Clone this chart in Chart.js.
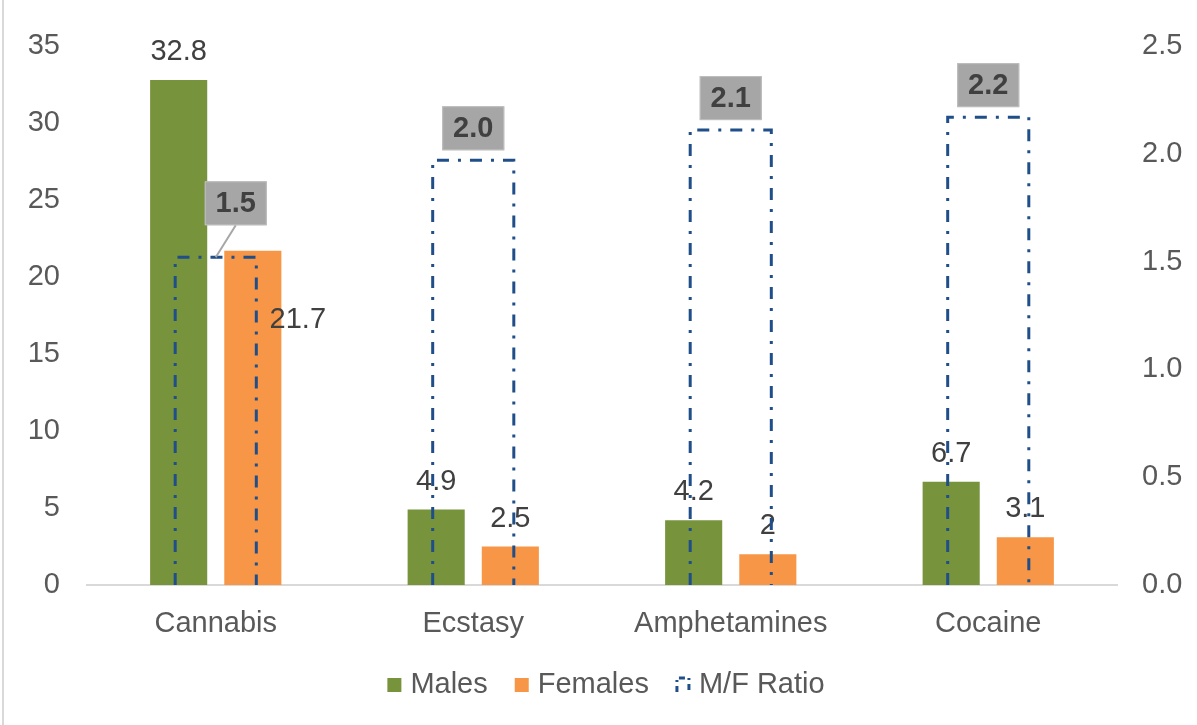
<!DOCTYPE html>
<html lang="en">
<head>
<meta charset="UTF-8" />
<title>Drug use by sex</title>
<script src="https://cdn.jsdelivr.net/npm/chart.js"></script>
<style>
  body { margin: 0; background: #fff; }
  #wrap { width: 1197px; height: 725px; position: relative; }
</style>
</head>
<body>
<div id="wrap"><canvas id="chart"></canvas></div>
<script>
// data
const categories = ["Cannabis", "Ecstasy", "Amphetamines", "Cocaine"];
const males = [32.8, 4.9, 4.2, 6.7];
const females = [21.7, 2.5, 2, 3.1];
const ratio = [1.52, 1.97, 2.11, 2.17];
const leftMax = 35, leftStep = 5;
const rightMax = 2.5, rightStep = 0.5;

const FONT = '"Liberation Sans", Arial, sans-serif';
const RATIO_COLOR = "#1F4E89";
const RATIO_DASH = [12, 9, 3, 9];

// value labels, dash-dot ratio outlines and grey ratio boxes
const labelPlugin = {
  id: "labels",
  afterDatasetsDraw(chart) {
    const ctx = chart.ctx;
    ctx.save();
    ctx.font = "29px " + FONT;
    ctx.fillStyle = "#404040";
    ctx.textAlign = "center";
    ctx.textBaseline = "alphabetic";
    [0, 1].forEach(function (di) {
      const vals = chart.data.datasets[di].data;
      chart.getDatasetMeta(di).data.forEach(function (bar, i) {
        let x = bar.x, y = bar.y - 20;
        // the Cannabis female label sits beside its bar
        if (di === 1 && i === 0) { x = bar.x + 45; y = bar.y + 77; }
        ctx.fillText(String(vals[i]), x, y);
      });
    });

    const rm = chart.getDatasetMeta(2);
    ctx.strokeStyle = RATIO_COLOR;
    ctx.lineWidth = 3;
    ctx.setLineDash(RATIO_DASH);
    rm.data.forEach(function (bar) {
      const l = bar.x - bar.width / 2, r = bar.x + bar.width / 2;
      ctx.beginPath();
      ctx.moveTo(l, bar.base);
      ctx.lineTo(l, bar.y);
      ctx.lineTo(r, bar.y);
      ctx.lineTo(r, bar.base);
      ctx.stroke();
    });
    ctx.setLineDash([]);

    ctx.font = "bold 29px " + FONT;
    ctx.textBaseline = "middle";
    rm.data.forEach(function (bar, i) {
      let cx = bar.x, bottom = bar.y - 10;
      if (i === 0) { cx = bar.x + 20; bottom = bar.y - 32; }
      const w = 62, h = 44;
      if (i === 0) {
        ctx.strokeStyle = "#A6A6A6";
        ctx.lineWidth = 2;
        ctx.beginPath();
        ctx.moveTo(cx, bottom);
        ctx.lineTo(bar.x, bar.y);
        ctx.stroke();
      }
      ctx.fillStyle = "#A6A6A6";
      ctx.fillRect(cx - w / 2, bottom - h, w, h);
      ctx.strokeStyle = "#BFBFBF";
      ctx.lineWidth = 1;
      ctx.strokeRect(cx - w / 2 + 0.5, bottom - h + 0.5, w - 1, h - 1);
      ctx.fillStyle = "#404040";
      ctx.fillText(ratio[i].toFixed(1), cx, bottom - h / 2 + 1);
    });
    ctx.restore();
  },
  afterDraw(chart) {
    // legend
    const ctx = chart.ctx;
    ctx.save();
    ctx.font = "29px " + FONT;
    ctx.textBaseline = "middle";
    ctx.textAlign = "left";
    const ds = chart.data.datasets;
    const box = 14, gap = 9, itemGap = 27;
    let total = 0;
    ds.forEach(function (d, i) {
      total += box + gap + ctx.measureText(d.label).width + (i < ds.length - 1 ? itemGap : 0);
    });
    let x = (chart.chartArea.left + chart.chartArea.right) / 2 + 4 - total / 2;
    const y = 685;
    ds.forEach(function (d, i) {
      if (i < 2) {
        ctx.fillStyle = d.backgroundColor;
        ctx.fillRect(x, y - box / 2, box, box);
      } else {
        ctx.strokeStyle = RATIO_COLOR;
        ctx.lineWidth = 3;
        ctx.setLineDash([6, 4, 2, 4]);
        ctx.beginPath();
        ctx.moveTo(x + 1, y + 7);
        ctx.lineTo(x + 1, y - 7);
        ctx.lineTo(x + 13, y - 7);
        ctx.lineTo(x + 13, y + 7);
        ctx.stroke();
        ctx.setLineDash([]);
      }
      ctx.fillStyle = "#595959";
      ctx.fillText(d.label, x + box + gap, y);
      x += box + gap + ctx.measureText(d.label).width + itemGap;
    });
    ctx.restore();
  },
  beforeDraw(chart) {
    const ctx = chart.ctx;
    ctx.save();
    ctx.strokeStyle = "#D9D9D9";
    ctx.lineWidth = 2;
    ctx.beginPath();
    ctx.moveTo(3, 0);
    ctx.lineTo(3, chart.height);
    ctx.stroke();
    ctx.restore();
  }
};

const tickFont = { family: FONT, size: 29 };

new Chart(document.getElementById("chart"), {
  type: "bar",
  data: {
    labels: categories,
    datasets: [
      {
        label: "Males",
        data: males,
        backgroundColor: "#77933C",
        categoryPercentage: 0.576,
        barPercentage: 0.77,
        yAxisID: "y"
      },
      {
        label: "Females",
        data: females,
        backgroundColor: "#F79646",
        categoryPercentage: 0.576,
        barPercentage: 0.77,
        yAxisID: "y"
      },
      {
        label: "M/F Ratio",
        data: ratio,
        backgroundColor: "rgba(0,0,0,0)",
        borderWidth: 0,
        grouped: false,
        categoryPercentage: 0.63,
        barPercentage: 0.5,
        yAxisID: "y1"
      }
    ]
  },
  options: {
    responsive: true,
    maintainAspectRatio: false,
    animation: false,
    layout: { padding: { top: 46, left: 0, right: 0, bottom: 0 } },
    plugins: {
      legend: { display: false },
      tooltip: { enabled: false }
    },
    scales: {
      x: {
        grid: { display: false },
        border: { color: "#D9D9D9", width: 2 },
        ticks: { color: "#595959", font: tickFont, padding: 14 },
        afterFit(s) { s.height = 140; }
      },
      y: {
        position: "left",
        min: 0,
        max: leftMax,
        grid: { display: false },
        border: { display: false },
        ticks: { stepSize: leftStep, color: "#595959", font: tickFont, padding: 19 },
        afterFit(s) { s.width = 87; }
      },
      y1: {
        position: "right",
        min: 0,
        max: rightMax,
        grid: { display: false },
        border: { display: false },
        ticks: {
          stepSize: rightStep,
          color: "#595959",
          font: tickFont,
          padding: 17,
          callback: function (v) { return v.toFixed(1); }
        },
        afterFit(s) { s.width = 80; }
      }
    }
  },
  plugins: [labelPlugin]
});
</script>
</body>
</html>
